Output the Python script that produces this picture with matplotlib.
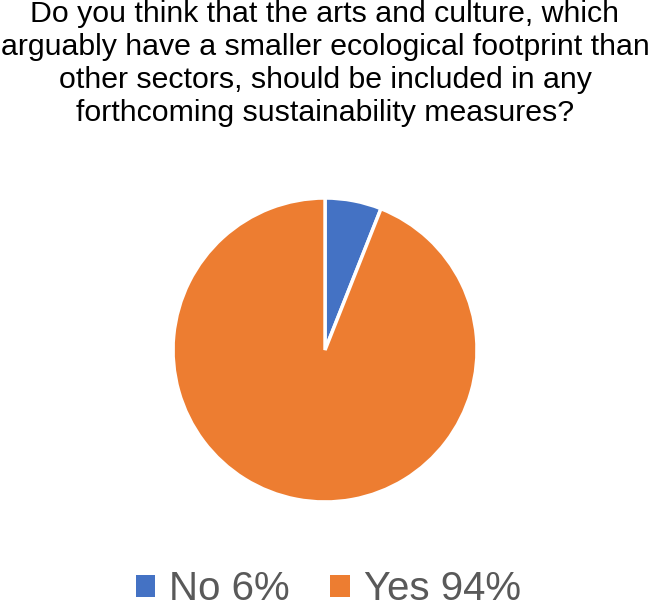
import matplotlib
matplotlib.use("Agg")
import matplotlib.pyplot as plt
from matplotlib.patches import Patch

plt.rcParams['font.family'] = ['Liberation Sans', 'DejaVu Sans']

title = ("Do you think that the arts and culture, which\n"
         "arguably have a smaller ecological footprint than\n"
         "other sectors, should be included in any\n"
         "forthcoming sustainability measures?")
labels = ["No", "Yes"]
values = [6, 94]
legend_labels = ["No 6%", "Yes 94%"]
colors = ["#4472C4", "#ED7D31"]

fig = plt.figure(figsize=(6.5, 6.07), dpi=100)
fig.text(0.5, 1.0, title, ha='center', va='top', fontsize=21.8,
         color='black', linespacing=1.22)

ax = fig.add_axes([0.2662, 0.173, 0.4677, 0.5008])
ax.pie(values, colors=colors, startangle=90, counterclock=False,
       wedgeprops=dict(edgecolor='white', linewidth=2.5))
ax.set_xlim(-1, 1)
ax.set_ylim(-1, 1)
ax.set_aspect('equal')
ax.axis('off')

handles = [Patch(facecolor=c, edgecolor='none') for c in colors]
leg = fig.legend(handles, legend_labels, loc='lower center',
                 bbox_to_anchor=(0.505, -0.062), ncol=2, frameon=False,
                 fontsize=29, handlelength=0.48, handleheight=0.48,
                 handletextpad=0.35, columnspacing=1.0, labelcolor='#595959')

fig.savefig("out.png", dpi=100)
